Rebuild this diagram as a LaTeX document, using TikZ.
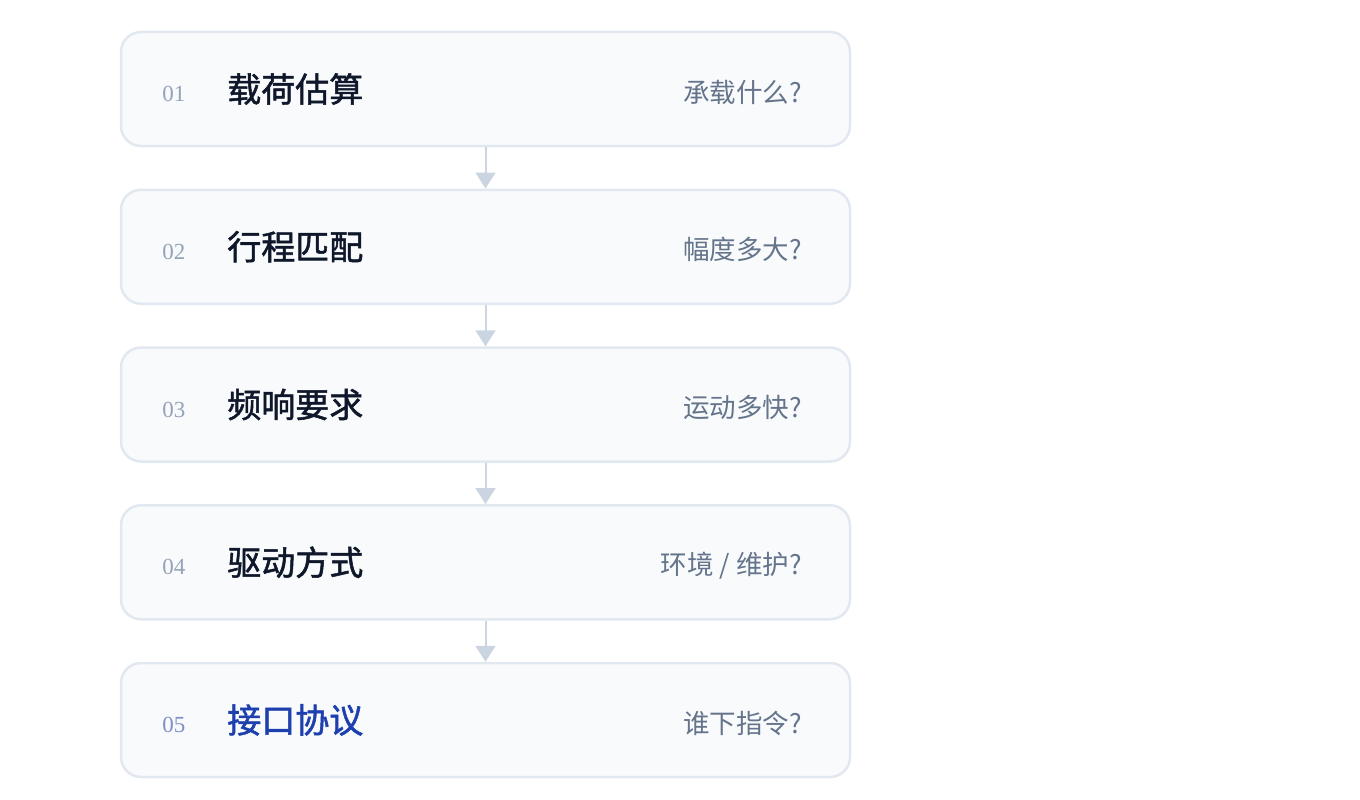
\documentclass[tikz,border=0pt]{standalone}
\usepackage{fontspec}
\setmainfont{Liberation Serif}
\newfontfamily\cjk{Noto Sans CJK SC}
\newfontfamily\cjkhead[FakeBold=1.5]{Noto Sans CJK SC}
\usetikzlibrary{arrows.meta,positioning}
\definecolor{Muted}{HTML}{64748B}
\definecolor{Soft}{HTML}{94A3B8}
\definecolor{Paper}{HTML}{F8FAFC}
\definecolor{Line}{HTML}{E2E8F0}
\definecolor{Wire}{HTML}{CBD5E1}
\definecolor{Ink}{HTML}{0F172A}
\definecolor{Navy}{HTML}{1E40AF}
\definecolor{NavySoft}{HTML}{7F8FC9}

\begin{document}
\begin{tikzpicture}[
      x=1pt,y=1pt,
      node distance=41.25pt,
      stepbox/.style={draw=Line,fill=Paper,line width=2.5pt,rounded corners=20pt,
        minimum width=729pt,minimum height=114pt},
      num/.style={font=\fontsize{23pt}{26pt}\selectfont,text=Soft},
      headtxt/.style={anchor=west,font=\cjkhead\fontsize{34pt}{40pt}\selectfont,text=Ink},
      ask/.style={anchor=east,font=\cjk\fontsize{26.5pt}{30pt}\selectfont,text=Muted},
      arrow/.style={-{Triangle[width=20pt,length=16pt]},line width=2pt,color=Wire}
    ]
      \useasboundingbox (0,0) rectangle (1360,-800);
      \node[stepbox] (load) at (485.5,-89) {};
      \node[stepbox,below=of load] (stroke) {};
      \node[stepbox,below=of stroke] (freq) {};
      \node[stepbox,below=of freq] (drive) {};
      \node[stepbox,below=of drive] (iface) {};
      % number, name and question of each step
      \node[num] (loadnum) at ([xshift=54pt,yshift=-5pt]load.west) {01};
      \node[headtxt] (loadname) at ([xshift=104pt]load.west) {载荷估算};
      \node[ask] (loadask) at ([xshift=-46pt,yshift=-3pt]load.east) {承载什么?};
      \node[num] (strokenum) at ([xshift=54pt,yshift=-5pt]stroke.west) {02};
      \node[headtxt] (strokename) at ([xshift=104pt]stroke.west) {行程匹配};
      \node[ask] (strokeask) at ([xshift=-46pt,yshift=-3pt]stroke.east) {幅度多大?};
      \node[num] (freqnum) at ([xshift=54pt,yshift=-5pt]freq.west) {03};
      \node[headtxt] (freqname) at ([xshift=104pt]freq.west) {频响要求};
      \node[ask] (freqask) at ([xshift=-46pt,yshift=-3pt]freq.east) {运动多快?};
      \node[num] (drivenum) at ([xshift=54pt,yshift=-5pt]drive.west) {04};
      \node[headtxt] (drivename) at ([xshift=104pt]drive.west) {驱动方式};
      \node[ask] (driveask) at ([xshift=-46pt,yshift=-3pt]drive.east) {环境 / 维护?};
      \node[num,text=NavySoft] (ifacenum) at ([xshift=54pt,yshift=-5pt]iface.west) {05};
      \node[headtxt,text=Navy] (ifacename) at ([xshift=104pt]iface.west) {接口协议};
      \node[ask] (ifaceask) at ([xshift=-46pt,yshift=-3pt]iface.east) {谁下指令?};
      \draw[arrow] (load) -- (stroke);
      \draw[arrow] (stroke) -- (freq);
      \draw[arrow] (freq) -- (drive);
      \draw[arrow] (drive) -- (iface);
    \end{tikzpicture}
\end{document}
